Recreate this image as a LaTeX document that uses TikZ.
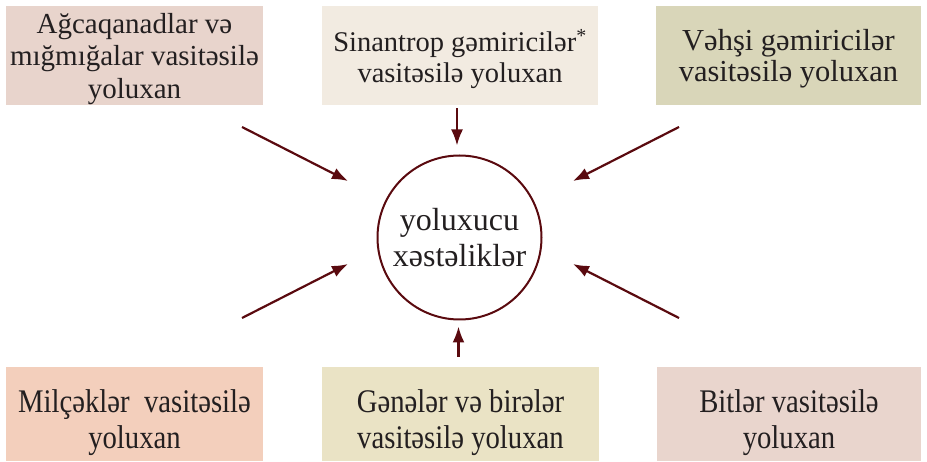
\documentclass[tikz,border=0pt]{standalone}
\usepackage{fontspec}
\setmainfont{Liberation Serif}
\newfontfamily\narrowserif[FakeStretch=0.87]{Liberation Serif}
\usetikzlibrary{arrows.meta}
\definecolor{ink}{HTML}{231F20}
\definecolor{maroon}{HTML}{5A0A0F}
\definecolor{rosefill}{HTML}{E8D4CC}
\definecolor{creamfill}{HTML}{F2EBE1}
\definecolor{olivefill}{HTML}{D9D6B9}
\definecolor{peachfill}{HTML}{F3CFBC}
\definecolor{sandfill}{HTML}{EAE3C5}
\definecolor{pinkfill}{HTML}{E9D5CD}
\tikzset{
  flow/.style={-{Latex[length=16pt,width=12pt]},draw=maroon,line width=2.2pt},
  route/.style={rectangle,inner sep=0pt,minimum height=99pt},
  lowroute/.style={route,minimum height=94pt},
  routetext/.style={inner sep=0pt,align=center,text=ink,yshift=-3.5pt,
    font=\fontsize{29}{32.5}\selectfont},
  lowtext/.style={routetext,yshift=-5pt,
    font=\narrowserif\fontsize{33}{35.5}\selectfont},
  hub/.style={circle,draw=maroon,line width=2pt,minimum size=164pt,inner sep=0pt,
    align=center,text=ink,font=\fontsize{32}{36}\selectfont}
}

\begin{document}
\begin{tikzpicture}[x=1pt,y=-1pt]
  \useasboundingbox (0,0) rectangle (927,462);

  \node[hub] (disease) at (459.5,237.5) {yoluxucu\\xəstəliklər};

  \node[route,fill=rosefill,minimum width=257pt,
    label={[routetext]center:Ağcaqanadlar və\\mığmığalar vasitəsilə\\yoluxan}]
    (mosquito) at (134.5,55.5) {};
  \node[route,fill=creamfill,minimum width=276pt,
    label={[routetext,font=\fontsize{28.5}{31}\selectfont]center:Sinantrop gəmiricilər\textsuperscript{*}\\vasitəsilə yoluxan}]
    (synanth) at (460,55.5) {};
  \node[route,fill=olivefill,minimum width=265pt,
    label={[routetext,font=\fontsize{30.5}{31}\selectfont]center:Vəhşi gəmiricilər\\vasitəsilə yoluxan}]
    (wild) at (788.5,55.5) {};
  \node[lowroute,fill=peachfill,minimum width=257pt,
    label={[lowtext]center:Milçəklər~ vasitəsilə\\yoluxan}]
    (flies) at (134.5,414) {};
  \node[lowroute,fill=sandfill,minimum width=277pt,
    label={[lowtext]center:Gənələr və birələr\\vasitəsilə yoluxan}]
    (ticks) at (460.5,414) {};
  \node[lowroute,fill=pinkfill,minimum width=264pt,
    label={[lowtext]center:Bitlər vasitəsilə\\yoluxan}]
    (lice) at (789,414) {};

  % free ends of the slanted arrows
  \coordinate (mosquito-out) at (242,127);
  \coordinate (mosquito-in) at (348,181);
  \coordinate (wild-out) at (679,127);
  \coordinate (wild-in) at (573,181);
  \coordinate (flies-out) at (242,318);
  \coordinate (flies-in) at (348,264);
  \coordinate (lice-out) at (679,318);
  \coordinate (lice-in) at (573,264);

  \draw[flow] (mosquito-out) -- (mosquito-in);
  \draw[flow] (wild-out) -- (wild-in);
  \draw[flow] (flies-out) -- (flies-in);
  \draw[flow] (lice-out) -- (lice-in);
  \draw[flow,shorten <=3pt,shorten >=9pt] ([xshift=-3pt]synanth.south) -- ([xshift=-2.5pt]disease.north);
  \draw[flow,shorten <=10pt,shorten >=6pt] ([xshift=-2pt]ticks.north) -- ([xshift=-1pt]disease.south);
\end{tikzpicture}
\end{document}
